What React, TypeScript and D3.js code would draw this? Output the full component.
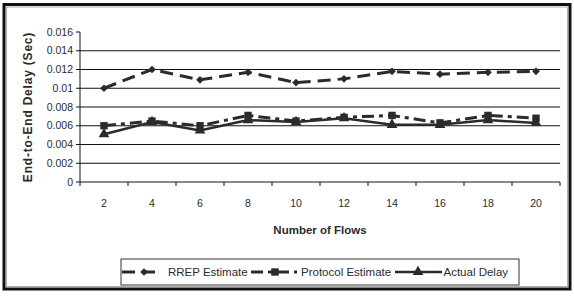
import * as d3 from "d3";

const flows = ["2", "4", "6", "8", "10", "12", "14", "16", "18", "20"];
const rrepEstimate = [0.0100, 0.0120, 0.0109, 0.0117, 0.0106, 0.0110, 0.0118, 0.0115, 0.0117, 0.0118];
const protocolEstimate = [0.0060, 0.0065, 0.0060, 0.0071, 0.0065, 0.0069, 0.0071, 0.0063, 0.0071, 0.0068];
const actualDelay = [0.0051, 0.0064, 0.0055, 0.0066, 0.0064, 0.0068, 0.0061, 0.0061, 0.0066, 0.0063];
const yTicks = [0, 0.002, 0.004, 0.006, 0.008, 0.01, 0.012, 0.014, 0.016];

const W = 574;
const H = 296;
const PLOT = { left: 80, right: 560, top: 32, bottom: 182 };
const INK = "#2b2b2b";
const FONT = "'Liberation Sans', Arial, sans-serif";

// diamond = square turned 45deg, as Excel draws it
const series = [
  { name: "RREP Estimate", values: rrepEstimate, dash: "13,7", width: 3, symbol: d3.symbolSquare, size: 30, rot: 45 },
  { name: "Protocol Estimate", values: protocolEstimate, dash: "12,5,4,5", width: 3, symbol: d3.symbolSquare, size: 55, rot: 0 },
  { name: "Actual Delay", values: actualDelay, dash: null, width: 2.5, symbol: d3.symbolTriangle, size: 50, rot: 0 },
];

// legend sample positions (x of line start/end, marker, label)
const LEGEND_ITEMS = [
  { x1: 122, x2: 162, mx: 144, tx: 168 },
  { x1: 251, x2: 297, mx: 275, tx: 301 },
  { x1: 395, x2: 442, mx: 418, tx: 443.5 },
];

export default function App() {
  const x = d3.scaleBand<string>().domain(flows).range([PLOT.left, PLOT.right]);
  const y = d3.scaleLinear().domain([0, 0.016]).range([PLOT.bottom, PLOT.top]);
  const cx = (f: string) => (x(f) ?? 0) + x.bandwidth() / 2;
  const fmt = (v: number) => (v === 0 ? "0" : String(+v.toFixed(3)));

  const boundaries = flows.map((f) => x(f) ?? 0).concat([PLOT.right]);

  return (
    <div style={{ position: "absolute", left: 0, top: 0 }}>
      <svg width={W} height={H} style={{ display: "block", background: "#fff" }} fontFamily={FONT}>
        {/* outer frame */}
        <rect x={4} y={4.5} width={566} height={284.5} fill="none" stroke="#111" strokeWidth={3} />
        <rect x={6.5} y={7} width={561} height={279.5} fill="none" stroke="#999" strokeWidth={0.8} />

        {/* gridlines */}
        {yTicks.filter((t) => t > 0 && t < 0.016).map((t) => (
          <line key={t} x1={PLOT.left} x2={PLOT.right} y1={y(t)} y2={y(t)} stroke="#111" strokeWidth={1} />
        ))}

        {/* y axis */}
        <line x1={PLOT.left} x2={PLOT.left} y1={PLOT.top} y2={PLOT.bottom} stroke="#111" />
        {yTicks.map((t) => (
          <g key={t}>
            <line x1={PLOT.left - 4} x2={PLOT.left} y1={y(t)} y2={y(t)} stroke="#111" />
            <text x={73} y={y(t)} dy="0.35em" textAnchor="end" fontSize={10.5} fill={INK}>
              {fmt(t)}
            </text>
          </g>
        ))}

        {/* x axis */}
        <line x1={PLOT.left} x2={PLOT.right} y1={PLOT.bottom} y2={PLOT.bottom} stroke="#111" />
        {boundaries.map((b, i) => (
          <line key={i} x1={b} x2={b} y1={PLOT.bottom} y2={PLOT.bottom + 4} stroke="#111" />
        ))}
        {flows.map((f) => (
          <text key={f} x={cx(f)} y={203} dy="0.35em" textAnchor="middle" fontSize={10.5} fill={INK}>
            {f}
          </text>
        ))}

        {/* axis titles */}
        <text x={320} y={230} dy="0.35em" textAnchor="middle" fontSize={11.5} fontWeight="bold" fill={INK}>
          Number of Flows
        </text>
        <text
          transform={`translate(28,107) rotate(-90)`}
          dy="0.35em"
          textAnchor="middle"
          fontSize={12}
          fontWeight="bold"
          letterSpacing={0.8}
          fill={INK}
        >
          End-to-End Delay (Sec)
        </text>

        {/* series */}
        {series.map((s) => {
          const line = d3
            .line<number>()
            .x((_, i) => cx(flows[i]))
            .y((v) => y(v));
          const sym = d3.symbol().type(s.symbol).size(s.size)();
          return (
            <g key={s.name}>
              <path
                d={line(s.values) ?? ""}
                fill="none"
                stroke={INK}
                strokeWidth={s.width}
                strokeDasharray={s.dash ?? undefined}
              />
              {s.values.map((v, i) => (
                <path
                  key={i}
                  d={sym ?? ""}
                  transform={`translate(${cx(flows[i])},${y(v)}) rotate(${s.rot})`}
                  fill={INK}
                />
              ))}
            </g>
          );
        })}

        {/* legend */}
        <rect x={121} y={259} width={398} height={26} fill="#fff" stroke="#333" strokeWidth={1} />
        {series.map((s, i) => {
          const it = LEGEND_ITEMS[i];
          const sym = d3.symbol().type(s.symbol).size(s.size)();
          return (
            <g key={s.name}>
              <line
                x1={it.x1}
                x2={it.x2}
                y1={272}
                y2={272}
                stroke={INK}
                strokeWidth={s.width}
                strokeDasharray={s.dash ?? undefined}
              />
              <path d={sym ?? ""} transform={`translate(${it.mx},272) rotate(${s.rot})`} fill={INK} />
              <text x={it.tx} y={272} dy="0.35em" fontSize={11.5} fill={INK}>
                {s.name}
              </text>
            </g>
          );
        })}
      </svg>
    </div>
  );
}
